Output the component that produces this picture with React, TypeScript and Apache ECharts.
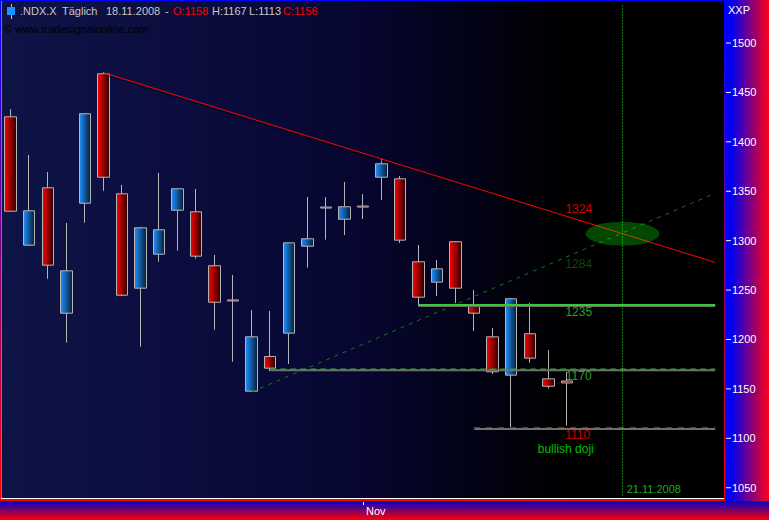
import React, { useEffect, useRef } from "react";
import * as echarts from "echarts";

const categories = [
  "07.10.2008","08.10.2008","09.10.2008","10.10.2008","13.10.2008","14.10.2008","15.10.2008","16.10.2008","17.10.2008","20.10.2008",
  "21.10.2008","22.10.2008","23.10.2008","24.10.2008","27.10.2008","28.10.2008","29.10.2008","30.10.2008","31.10.2008",
  "03.11.2008","04.11.2008","05.11.2008","06.11.2008","07.11.2008","10.11.2008","11.11.2008","12.11.2008","13.11.2008","14.11.2008",
  "17.11.2008","18.11.2008","19.11.2008","20.11.2008","21.11.2008","24.11.2008","25.11.2008","26.11.2008","27.11.2008","28.11.2008",
];
const opens = [1425.3,1295.4,1353.5,1226.6,1337.9,1468.8,1347.4,1251.9,1286.3,1330.8,1329.2,1274.6,1240,1147.7,1182.8,1206.4,1294.4,1334,1321.7,1335,1364.2,1362.6,1278.6,1258,1298.9,1234.9,1202.7,1163.9,1205.8,1160.2,1158];
const closes = [1329.8,1330.2,1275.2,1269.5,1428.4,1364.2,1244.8,1313,1311,1352.5,1284.3,1237.7,1239,1202.7,1171,1297.8,1301.9,1333,1334.3,1334,1377.8,1300.5,1242.8,1271.5,1251.9,1226.6,1167.3,1241.2,1181.1,1152.7,1156];
const lows = [1329,1295,1261.5,1196.8,1318.2,1350.6,1244,1192.7,1278.7,1289.8,1281.8,1209.9,1177.5,1147,1168.1,1175.2,1272.6,1301,1305.7,1321.9,1341.1,1297.6,1233.9,1244,1237,1208.6,1165.1,1110.8,1176.5,1150.2,1113];
const highs = [1433.2,1386.7,1369.5,1317.9,1429,1470.7,1356.3,1314,1368.5,1353,1352.3,1285.5,1265.3,1229.8,1228.8,1298,1344.2,1344.2,1359.4,1347.2,1382.6,1365.4,1295.6,1280.4,1299.5,1250.1,1211.6,1242,1237,1189.4,1167];
const yTicks = [1050,1100,1150,1200,1250,1300,1350,1400,1450,1500];
const monthIndex = 19;
const monthLabel = "Nov";

const redTrend = [[5,1470],[38,1278]];
const greenTrend = [[13,1147],[38,1348]];
const line1235 = [[22,1234.9],[38,1234.9]];
const line1170 = [[14,1170.1],[38,1170.1]];
const line1110 = [[25,1111],[38,1111]];
const shadow1235 = [[22,1233.4],[38,1233.4]];
const shadow1170 = [[14,1168.9],[38,1168.9]];
const shadow1110 = [[25,1109.4],[38,1109.4]];
const dateLine = [[33,1538],[33,1040]];
const ellipsePoint = [[33,1307]];
const notes: [number, number, string, string, number][] = [
  [31.14,1332,"1324","#ff0000",12],
  [31.14,1276.4,"1284","#0b5f0b",12],
  [31.14,1227.8,"1235","#33cc33",12],
  [31.14,1163,"1170","#33cc33",12],
  [31.08,1103.4,"1110","#ff0000",12],
  [30.44,1089.2,"bullish doji","#00ee00",12],
  [35.19,1048.7,"21.11.2008","#22dd22",11],
];
const headerTexts: [number, string, string][] = [
  [20,".NDX.X","#c8c8c8"],
  [62,"Täglich","#c8c8c8"],
  [106,"18.11.2008","#c8c8c8"],
  [165,"-","#c8c8c8"],
  [173,"O:1158","#ff0000"],
  [212,"H:1167","#c8c8c8"],
  [249,"L:1113","#c8c8c8"],
  [283,"C:1156","#ff0000"],
];

const FONT = "Liberation Sans";

function hline(data: number[][], color: string, width: number, type: any) {
  return {
    type: "line", data, showSymbol: false, silent: true,
    lineStyle: { color, width, type }, z: 4,
  };
}

export default function App() {
  const ref = useRef<HTMLDivElement>(null);
  useEffect(() => {
    document.body.style.margin = "0";
    const chart = echarts.init(ref.current!, null, { renderer: "svg" });
    const redFill = new echarts.graphic.LinearGradient(0, 0, 1, 0, [
      { offset: 0, color: "#ff0000" }, { offset: 1, color: "#2a0000" },
    ]);
    const blueFill = new echarts.graphic.LinearGradient(0, 0, 1, 0, [
      { offset: 0, color: "#1e90ff" }, { offset: 1, color: "#061c36" },
    ]);
    chart.setOption({
      animation: false,
      textStyle: { fontFamily: FONT },
      grid: {
        left: 1.44, top: 1, width: 723, height: 497, show: true, borderWidth: 0,
        backgroundColor: new echarts.graphic.LinearGradient(0, 0, 1, 0, [
          { offset: 0, color: "#0e1446" },
          { offset: 0.25, color: "#0b0d3e" },
          { offset: 0.5, color: "#060630" },
          { offset: 0.78, color: "#000000" },
          { offset: 1, color: "#000000" },
        ]),
      },
      xAxis: [
        {
          type: "category", data: categories, offset: 4,
          axisLine: { show: false },
          axisTick: { show: true, length: 3, alignWithLabel: true, interval: (i: number) => i === monthIndex, lineStyle: { color: "#ffffff" } },
          axisLabel: {
            show: true, interval: (i: number) => i === monthIndex, formatter: () => monthLabel,
            color: "#ffffff", fontSize: 11, fontFamily: FONT, align: "left", margin: 3, padding: [0, 0, 0, 3],
          },
          splitLine: { show: false },
        },
        { type: "value", min: 0, max: 39, show: false, splitLine: { show: false } },
      ],
      yAxis: {
        type: "value", position: "right", min: 1039.6, max: 1542.5, offset: 1,
        axisLine: { show: false },
        axisTick: { show: false },
        axisLabel: {
          show: true, customValues: yTicks,
          formatter: (v: number) => `{t|}{n|${v}}`,
          color: "#ffffff", fontSize: 11, fontFamily: FONT, margin: 0.5,
          rich: {
            t: { width: 5, height: 1, backgroundColor: "#ffffff" },
            n: { color: "#ffffff", fontSize: 11, fontFamily: FONT, padding: [0, 0, 0, 1] },
          },
        },
        splitLine: { show: false },
      },
      graphic: [
        { type: "rect", z: 0, shape: { x: 725, y: 0, width: 44, height: 501 }, style: { fill: new echarts.graphic.LinearGradient(0, 0, 1, 0, [{ offset: 0, color: "#0000ff" }, { offset: 0.15, color: "#0000f0" }, { offset: 1, color: "#ff0018" }]) } },
        { type: "rect", z: 0, shape: { x: 0, y: 501, width: 769, height: 19 }, style: { fill: new echarts.graphic.LinearGradient(0, 0, 0, 1, [{ offset: 0, color: "#0000c8" }, { offset: 1, color: "#ff0000" }]) } },
        { type: "rect", z: 1, shape: { x: 0, y: 0, width: 1, height: 500 }, style: { fill: new echarts.graphic.LinearGradient(0, 0, 0, 1, [{ offset: 0, color: "#0000ff" }, { offset: 1, color: "#ff0000" }]) } },
        { type: "rect", z: 1, shape: { x: 0, y: 0, width: 725, height: 1 }, style: { fill: "#0000ff" } },
        { type: "rect", z: 1, shape: { x: 724, y: 0, width: 1, height: 500 }, style: { fill: new echarts.graphic.LinearGradient(0, 0, 0, 1, [{ offset: 0, color: "#0000ff" }, { offset: 1, color: "#ff0000" }]) } },
        { type: "rect", z: 1, shape: { x: 0, y: 499, width: 725, height: 2 }, style: { fill: "#ff0000" } },
        { type: "rect", z: 10, shape: { x: 11, y: 4, width: 1, height: 15 }, style: { fill: "#c0c0c0" } },
        { type: "rect", z: 10, shape: { x: 7, y: 7, width: 8, height: 8 }, style: { fill: "#1e90ff" } },
        ...headerTexts.map(([x, text, fill]) => ({
          type: "text", z: 10, x, y: 5, style: { text, fill, font: `11px "${FONT}"` },
        })),
        { type: "text", z: 10, x: 4, y: 23, style: { text: "© www.tradesignalonline.com", fill: "#000000", font: `11px "${FONT}"` } },
        { type: "text", z: 10, x: 728, y: 4, style: { text: "XXP", fill: "#ffffff", font: `11px "${FONT}"` } },
      ],
      series: [
        {
          type: "candlestick", barWidth: 12, silent: true, z: 2,
          data: opens.map((o, i) => [o, closes[i], lows[i], highs[i]]),
          itemStyle: {
            color: blueFill, color0: redFill,
            borderColor: "#b4b4b4", borderColor0: "#b4b4b4", borderColorDoji: "#b4b4b4", borderWidth: 1,
          },
        },
        {
          type: "line", data: redTrend, showSymbol: false, silent: true, z: 4,
          lineStyle: { color: "#ff0000", width: 1, shadowColor: "rgba(0,0,0,0.6)", shadowOffsetY: 2, shadowBlur: 0 },
        },
        hline(greenTrend, "#0f7a0f", 1, [4, 5]),
        hline(shadow1235, "#707070", 1, "solid"),
        hline(shadow1170, "#707070", 2, "solid"),
        hline(shadow1110, "#707070", 2, "solid"),
        hline(line1235, "#33cc33", 2, "solid"),
        hline(line1170, "#22bb22", 1, [6, 4]),
        hline(line1110, "#ee0000", 1, [6, 6]),
        hline(dateLine, "#22ee22", 1, [1, 2]),
        {
          type: "scatter", data: ellipsePoint, symbol: "circle", symbolSize: [74, 24], silent: true, z: 5,
          itemStyle: { color: "rgba(10,255,10,0.35)" },
        },
        {
          type: "scatter", xAxisIndex: 1, symbolSize: 0, silent: true, z: 6,
          data: notes.map((n) => ({
            value: [n[0], n[1]],
            label: { show: true, position: "inside", formatter: n[2], color: n[3], fontSize: n[4], fontFamily: FONT },
          })),
        },
      ],
    });
    return () => chart.dispose();
  }, []);
  return <div ref={ref} style={{ position: "absolute", left: 0, top: 0, width: 769, height: 520 }} />;
}
